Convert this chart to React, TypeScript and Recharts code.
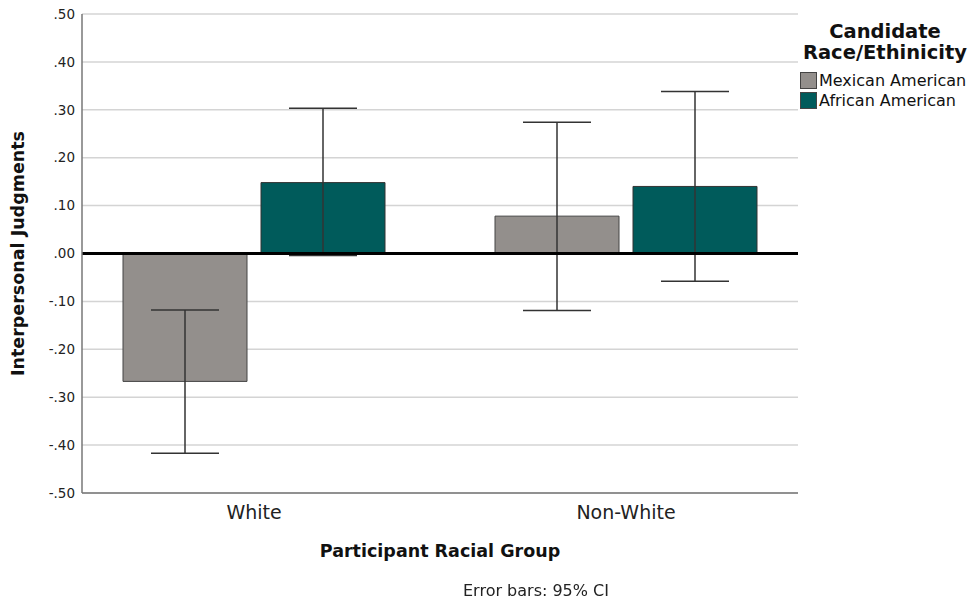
import React from 'react'
import {
  ComposedChart,
  Bar,
  XAxis,
  YAxis,
  CartesianGrid,
  ReferenceLine,
  ErrorBar,
  Label,
} from 'recharts'

const categories = ['White', 'Non-White']
const mexicanMean = [-0.267, 0.078]
const mexicanLow = [-0.417, -0.119]
const mexicanHigh = [-0.118, 0.274]
const africanMean = [0.148, 0.14]
const africanLow = [-0.004, -0.058]
const africanHigh = [0.303, 0.338]
const yTicks = [-0.5, -0.4, -0.3, -0.2, -0.1, 0, 0.1, 0.2, 0.3, 0.4, 0.5]

const seriesNames = ['Mexican American', 'African American']
const GRAY = '#938f8c'
const TEAL = '#005b5b'
const FONT = '"DejaVu Sans", sans-serif'

const data = categories.map((c, i) => ({
  name: c,
  mexican: mexicanMean[i],
  mexicanErr: [mexicanMean[i] - mexicanLow[i], mexicanHigh[i] - mexicanMean[i]],
  african: africanMean[i],
  africanErr: [africanMean[i] - africanLow[i], africanHigh[i] - africanMean[i]],
}))

// SPSS style: ".50", "-.10"
const fmt = (v: number) => v.toFixed(2).replace(/^(-?)0\./, '$1.')

function LegendBox() {
  const colors = [GRAY, TEAL]
  return (
    <div style={{ position: 'absolute', left: 800, top: 21, fontFamily: FONT, color: '#111' }}>
      <div style={{ fontWeight: 'bold', fontSize: 19.5, lineHeight: '21px', textAlign: 'center', width: 170 }}>
        Candidate
        <br />
        Race/Ethinicity
      </div>
      <div style={{ marginTop: 7 }}>
        {seriesNames.map((n, i) => (
          <div key={n} style={{ display: 'flex', alignItems: 'center', height: 20, fontSize: 16 }}>
            <span
              style={{
                display: 'inline-block',
                width: 15,
                height: 15,
                background: colors[i],
                border: '1px solid #444',
                marginRight: 2,
              }}
            />
            {n}
          </div>
        ))}
      </div>
    </div>
  )
}

export default function App() {
  return (
    <div style={{ position: 'fixed', left: 0, top: 0, width: 974, height: 602, background: '#fff' }}>
      <ComposedChart
        width={974}
        height={602}
        data={data}
        margin={{ top: 14, right: 176, bottom: 79, left: 12 }}
        barGap={14}
        barSize={124}
      >
        <CartesianGrid vertical={false} stroke="#d4d4d4" strokeWidth={1.5} />
        <XAxis
          dataKey="name"
          height={30}
          padding={{ left: -14, right: -14 }}
          tickLine={false}
          axisLine={{ stroke: '#777', strokeWidth: 1.5 }}
          tick={{ fontFamily: FONT, fontSize: 19, fill: '#222' }}
          tickMargin={7}
        >
          <Label
            value="Participant Racial Group"
            position="bottom"
            offset={22}
            style={{ fontFamily: FONT, fontSize: 17.5, fontWeight: 'bold', fill: '#111' }}
          />
        </XAxis>
        <YAxis
          width={70}
          domain={[-0.5, 0.5]}
          ticks={yTicks}
          tickFormatter={fmt}
          tickLine={false}
          axisLine={{ stroke: '#777', strokeWidth: 1.5 }}
          tick={{ fontFamily: FONT, fontSize: 13.5, fill: '#222' }}
          tickMargin={1}
          allowDataOverflow
        >
          <Label
            value="Interpersonal Judgments"
            angle={-90}
            position="insideLeft"
            offset={0}
            dx={6}
            style={{ fontFamily: FONT, fontSize: 17.5, fontWeight: 'bold', fill: '#111', textAnchor: 'middle' }}
          />
        </YAxis>
        <Bar dataKey="mexican" name={seriesNames[0]} fill={GRAY} stroke="#444" strokeWidth={1} isAnimationActive={false}>
          <ErrorBar dataKey="mexicanErr" width={34} stroke="#333" strokeWidth={1.5} isAnimationActive={false} />
        </Bar>
        <Bar dataKey="african" name={seriesNames[1]} fill={TEAL} stroke="#333" strokeWidth={1} isAnimationActive={false}>
          <ErrorBar dataKey="africanErr" width={34} stroke="#333" strokeWidth={1.5} isAnimationActive={false} />
        </Bar>
        <ReferenceLine y={0} stroke="#000" strokeWidth={3} />
      </ComposedChart>
      <LegendBox />
      <div
        style={{
          position: 'absolute',
          left: 0,
          width: 1072,
          top: 581,
          textAlign: 'center',
          fontFamily: FONT,
          fontSize: 16,
          color: '#222',
        }}
      >
        Error bars: 95% CI
      </div>
    </div>
  )
}
